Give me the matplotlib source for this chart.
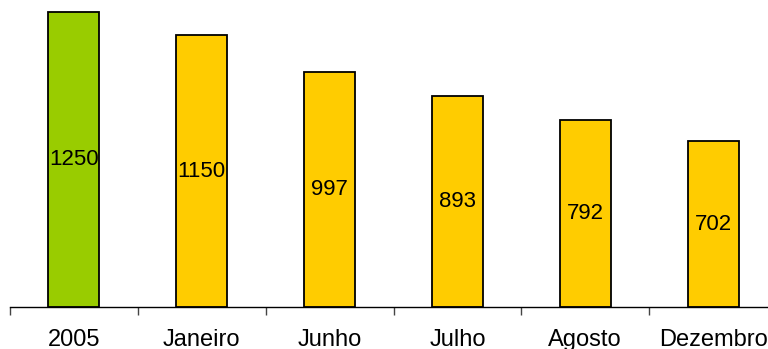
import matplotlib

matplotlib.use("Agg")
import matplotlib.pyplot as plt
from matplotlib.ticker import FixedLocator

CATEGORIES = ["2005", "Janeiro", "Junho", "Julho", "Agosto", "Dezembro"]
VALUES = [1250, 1150, 997, 893, 792, 702]
COLORS = ["#99cc00", "#ffcc00", "#ffcc00", "#ffcc00", "#ffcc00", "#ffcc00"]

plt.rcParams["font.family"] = ["Liberation Sans", "DejaVu Sans"]

W, H = 768, 349
fig = plt.figure(figsize=(W / 100, H / 100), dpi=100)
# axes run slightly past the right edge, like the source image
ax = fig.add_axes([10 / W, (H - 307) / H, 767 / W, 307 / H])

x = range(len(CATEGORIES))
bars = ax.bar(x, VALUES, width=0.4, color=COLORS, edgecolor="black", linewidth=1.3)
for b, v in zip(bars, VALUES):
    ax.text(b.get_x() + b.get_width() / 2, v / 2, str(v), ha="center", va="center",
            fontsize=16, color="black")

ax.set_xlim(-0.5, len(CATEGORIES) - 0.5)
ax.set_ylim(0, 1300)
for s in ("top", "right", "left"):
    ax.spines[s].set_visible(False)
ax.spines["bottom"].set_color("black")
ax.spines["bottom"].set_linewidth(1.0)
ax.set_yticks([])
ax.set_xticks(list(x))
ax.set_xticklabels(CATEGORIES, fontsize=17)
ax.tick_params(axis="x", which="major", length=0, pad=16)
ax.xaxis.set_minor_locator(FixedLocator([i - 0.5 for i in range(len(CATEGORIES) + 1)]))
ax.tick_params(axis="x", which="minor", length=6, width=1.0, color="#444444")

fig.savefig("out.png", dpi=100, facecolor="white")
